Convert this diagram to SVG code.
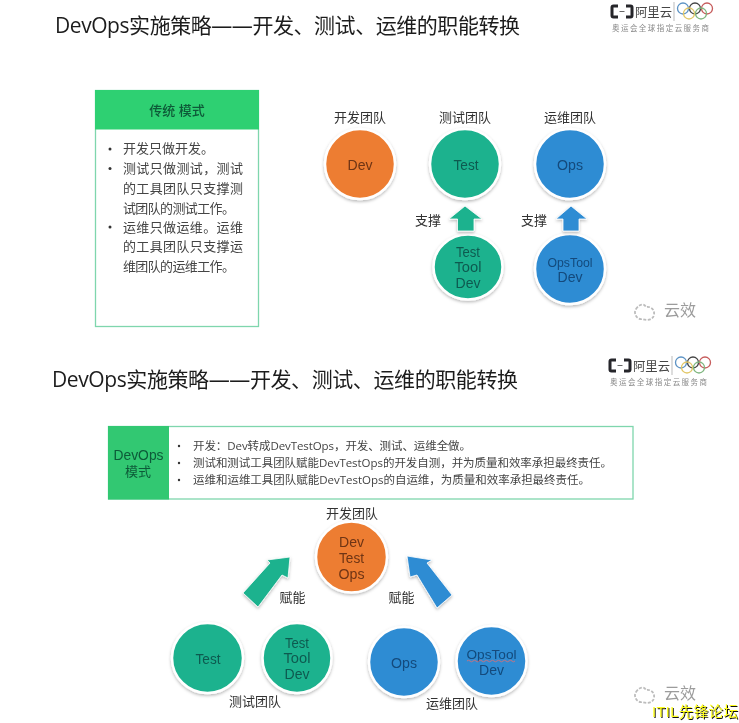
<svg xmlns="http://www.w3.org/2000/svg" width="739" height="723" viewBox="0 0 739 723">
<defs>
<filter id="soft" x="-5%" y="-5%" width="110%" height="110%"><feGaussianBlur stdDeviation="0.55"/></filter>
<filter id="shadow" x="-30%" y="-30%" width="160%" height="160%"><feDropShadow dx="0" dy="1.5" stdDeviation="1.5" flood-color="#000" flood-opacity="0.28"/></filter>
<g id="logoMark">
<path d="M618 6H613.500Q612 6 612 7.500V15.500Q612 17 613.500 17H618M626 6H630.500Q632 6 632 7.500V15.500Q632 17 630.500 17H626" fill="none" stroke="#26262c" stroke-width="3"/>
<path d="M619.500 11.500H624.500" stroke="#666" stroke-width="1"/>
<text x="635" y="17" class="lx" font-size="12.500" fill="#444" textLength="37" lengthAdjust="spacingAndGlyphs">阿里云</text>
<path d="M674 2V21" stroke="#bbb" stroke-width="1"/>
<g fill="none" stroke-width="1.300">
<circle cx="683" cy="8.500" r="5.500" stroke="#5d93c4"/>
<circle cx="695" cy="8.500" r="5.500" stroke="#444"/>
<circle cx="707" cy="8.500" r="5.500" stroke="#c65b5b"/>
<circle cx="689" cy="13.500" r="5.500" stroke="#e2c766"/>
<circle cx="701" cy="13.500" r="5.500" stroke="#7fb67f"/>
</g>
<text x="612" y="31" class="lx" font-size="7.500" fill="#8a8a8a" textLength="97" lengthAdjust="spacing">奥运会全球指定云服务商</text>
</g>
<g id="yunxiao">
<path d="M636 309c3-5 8-6 10-2c5-1 9 3 8 8c-1 5-7 6-12 4c-5 1-9-6-6-10z" fill="none" stroke="#bcbcbc" stroke-width="1.800" stroke-dasharray="3 1.500"/>
<text x="664" y="316" class="lx" font-size="16" fill="#9c9c9c" textLength="32">云效</text>
</g>
</defs>
<style>
.lx{font-family:"Liberation Sans","Noto Sans CJK SC",sans-serif}
.t{font-family:"Open Sans","Noto Sans CJK SC",sans-serif}
.title{font-size:21px;fill:#1c1c1c}
.lab{font-size:13px;fill:#333;text-anchor:middle}
.body{font-size:13px;fill:#444}
.small{font-size:11.500px;fill:#444}
.nt{font-size:14px;text-anchor:middle}
.o{fill:#ed7d31;stroke:#fff;stroke-width:2.500;filter:url(#shadow)}
.g{fill:#1cb28e;stroke:#fff;stroke-width:2.500;filter:url(#shadow)}
.b{fill:#2f8cd3;stroke:#fff;stroke-width:2.500;filter:url(#shadow)}
.ot{fill:#6e3414}.gt{fill:#0f5a50}.bt{fill:#124a7c}
</style>
<rect width="739" height="723" fill="#fff"/>
<g filter="url(#soft)">
<g id="title-top"><text x="55" y="33" class="t title" textLength="465">DevOps实施策略——开发、测试、运维的职能转换</text></g>
<g id="logo-top"><use href="#logoMark"/></g>
<g id="mode-traditional">
<rect x="95.500" y="90.500" width="163" height="236" fill="#fff" stroke="#7fd6ad" stroke-width="1.300"/>
<rect x="95" y="90" width="164" height="39.500" fill="#2fd072"/>
<text x="177" y="114.500" class="lx" font-size="13" font-weight="500" fill="#0e5a38" text-anchor="middle">传统 模式</text>
<g class="lx body">
<circle cx="110" cy="149" r="1.500" fill="#333"/><text x="123" y="153">开发只做开发。</text>
<circle cx="110" cy="168.500" r="1.500" fill="#333"/><text x="123" y="173" textLength="120">测试只做测试，测试</text>
<text x="123" y="193" textLength="120">的工具团队只支撑测</text>
<text x="123" y="212.500" textLength="112">试团队的测试工作。</text>
<circle cx="110" cy="227" r="1.500" fill="#333"/><text x="123" y="232" textLength="120">运维只做运维。运维</text>
<text x="123" y="251" textLength="120">的工具团队只支撑运</text>
<text x="123" y="270.500" textLength="112">维团队的运维工作。</text>
</g>
</g>
<g id="top-dev"><text x="360" y="121.500" class="lx lab">开发团队</text><ellipse cx="360" cy="164" rx="35" ry="35" class="o"/><text x="360" y="169.500" class="lx nt ot" textLength="25" lengthAdjust="spacingAndGlyphs">Dev</text></g>
<g id="top-test"><text x="465" y="121.500" class="lx lab">测试团队</text><ellipse cx="465" cy="164" rx="35" ry="35" class="g"/><text x="466" y="169.500" class="lx nt gt" textLength="25" lengthAdjust="spacingAndGlyphs">Test</text></g>
<g id="top-ops"><text x="570" y="121.500" class="lx lab">运维团队</text><ellipse cx="570" cy="164" rx="35" ry="35" class="b"/><text x="570" y="170" class="lx nt bt" textLength="26" lengthAdjust="spacingAndGlyphs">Ops</text></g>
<g id="top-testtool"><ellipse cx="468" cy="267" rx="34.500" ry="32.500" class="g"/><g class="lx nt gt"><text x="468" y="256.500" textLength="24" lengthAdjust="spacingAndGlyphs">Test</text><text x="468" y="272" textLength="27" lengthAdjust="spacingAndGlyphs">Tool</text><text x="468" y="288" textLength="25" lengthAdjust="spacingAndGlyphs">Dev</text></g></g>
<g id="top-opstool"><ellipse cx="570" cy="269" rx="35" ry="35" class="b"/><g class="lx bt" text-anchor="middle" font-size="12.500"><text x="570" y="266.500" textLength="45" lengthAdjust="spacingAndGlyphs">OpsTool</text><text x="570" y="281.500" font-size="14" textLength="25" lengthAdjust="spacingAndGlyphs">Dev</text></g></g>
<g id="connectors-top">
<path d="M465 206L482 219H474V231H457.500V219H449Z" fill="#1cb28e" stroke="#fff" stroke-width="0.800" filter="url(#shadow)"/>
<path d="M571 206L587 219H579V231H563V219H556Z" fill="#2f8cd3" stroke="#fff" stroke-width="0.800" filter="url(#shadow)"/>
<text x="428" y="225" class="lx lab">支撑</text>
<text x="534" y="225" class="lx lab">支撑</text>
</g>
<g id="watermark-top"><use href="#yunxiao"/></g>
<g id="title-bottom"><text x="52" y="387" class="t title" textLength="466">DevOps实施策略——开发、测试、运维的职能转换</text></g>
<g id="logo-bottom"><use href="#logoMark" x="-2" y="354"/></g>
<g id="mode-devops">
<rect x="108.500" y="426.500" width="524.500" height="72.500" fill="#fff" stroke="#7fd6ad" stroke-width="1.300"/>
<rect x="108" y="426" width="61" height="73.500" fill="#30c872"/>
<text x="138.500" y="460" class="lx" font-size="14" fill="#0e5a38" text-anchor="middle" textLength="50" lengthAdjust="spacingAndGlyphs">DevOps</text>
<text x="138" y="475.500" class="lx" font-size="13" fill="#0e5a38" text-anchor="middle">模式</text>
<g class="t small">
<circle cx="179" cy="446" r="1.200" fill="#333"/><text x="193" y="450" textLength="278">开发：Dev转成DevTestOps，开发、测试、运维全做。</text>
<circle cx="179" cy="463" r="1.200" fill="#333"/><text x="193" y="467" textLength="419">测试和测试工具团队赋能DevTestOps的开发自测，并为质量和效率承担最终责任。</text>
<circle cx="179" cy="480" r="1.200" fill="#333"/><text x="193" y="484" textLength="397">运维和运维工具团队赋能DevTestOps的自运维，为质量和效率承担最终责任。</text>
</g>
</g>
<g id="bottom-devtestops"><text x="352" y="517.500" class="lx lab">开发团队</text><ellipse cx="351.500" cy="557" rx="35.500" ry="35.500" class="o"/><g class="lx nt ot"><text x="351.500" y="547" textLength="25" lengthAdjust="spacingAndGlyphs">Dev</text><text x="351.500" y="562.500" textLength="25" lengthAdjust="spacingAndGlyphs">Test</text><text x="351.500" y="579" textLength="26" lengthAdjust="spacingAndGlyphs">Ops</text></g></g>
<g id="bottom-test"><ellipse cx="207.500" cy="658" rx="35.500" ry="35" class="g"/><text x="208" y="663.500" class="lx nt gt" textLength="25" lengthAdjust="spacingAndGlyphs">Test</text></g>
<g id="bottom-testtool"><ellipse cx="297" cy="658" rx="34.500" ry="35" class="g"/><g class="lx nt gt"><text x="297" y="647.500" textLength="24" lengthAdjust="spacingAndGlyphs">Test</text><text x="297" y="663" textLength="27" lengthAdjust="spacingAndGlyphs">Tool</text><text x="297" y="679" textLength="25" lengthAdjust="spacingAndGlyphs">Dev</text></g></g>
<g id="bottom-ops"><ellipse cx="404" cy="662" rx="35" ry="35" class="b"/><text x="404" y="668" class="lx nt bt" textLength="26" lengthAdjust="spacingAndGlyphs">Ops</text></g>
<g id="bottom-opstool"><ellipse cx="491.500" cy="661" rx="35" ry="35" class="b"/><g class="lx bt" text-anchor="middle"><text x="491.500" y="659" font-size="13.500" textLength="50" lengthAdjust="spacingAndGlyphs">OpsTool</text><text x="491.500" y="675" font-size="14" textLength="25" lengthAdjust="spacingAndGlyphs">Dev</text></g><path d="M467 661q1.500-1.500 3 0t3 0t3 0t3 0t3 0t3 0t3 0t3 0t3 0t3 0t3 0t3 0t3 0t3 0t3 0t3 0" fill="none" stroke="#d2707c" stroke-width="0.900"/></g>
<g id="connectors-bottom">
<path d="M290 557L288 578L282 575L258 607L243 593L270 563L267 560Z" fill="#1cb28e" stroke="#fff" stroke-width="0.800" filter="url(#shadow)"/>
<path d="M407 556L432 560L427 563L452 595L437 608L417 575L410 577Z" fill="#2f8cd3" stroke="#fff" stroke-width="0.800" filter="url(#shadow)"/>
<text x="292.500" y="601.500" class="lx lab">赋能</text>
<text x="401.500" y="601.500" class="lx lab">赋能</text>
</g>
<text x="255" y="705.500" class="lx lab">测试团队</text>
<text x="452" y="707.500" class="lx lab">运维团队</text>
<g id="watermark-bottom"><use href="#yunxiao" y="383"/></g>
</g>
<g id="footer" class="lx" font-size="14.500">
<text x="653" y="718" fill="#111" textLength="86">ITIL先锋论坛</text>
<text x="652" y="717" fill="#ffff1a" textLength="86">ITIL先锋论坛</text>
</g>
</svg>
